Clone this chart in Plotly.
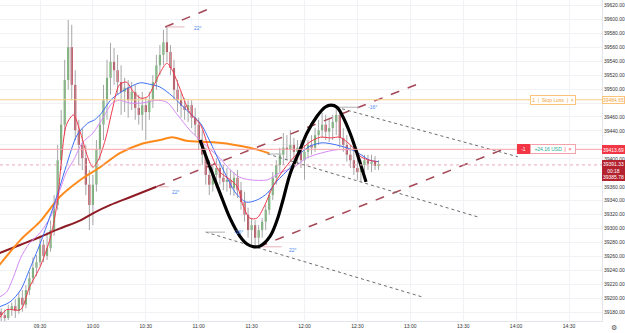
import pandas as pd
import plotly.graph_objects as go

DAY = "2024-03-04 "

# ---------------- candles (2-minute bars starting 09:08) ----------------
candle_start = "09:08"
opens = [39181,39176,39172,39184,39189,39182,39201,39191,39212,39229,
         39244,39252,39277,39261,39272,39298,39334,39398,39449,39513,
         39560,39506,39441,39420,39401,39363,39334,39363,39413,39449,
         39484,39516,39539,39527,39510,39496,39502,39484,39496,39473,
         39463,39477,39467,39484,39510,39534,39549,39567,39553,39530,
         39499,39484,39476,39470,39477,39459,39449,39427,39406,39377,
         39363,39377,39387,39373,39367,39370,39358,39373,39355,39338,
         39320,39298,39305,39287,39298,39310,39327,39348,39373,39391,
         39406,39416,39413,39420,39410,39416,39398,39410,39420,39416,
         39434,39441,39449,39439,39444,39453,39463,39430,39420,39406,
         39398,39387,39381,39391,39398,39393,39396,39390]
highs = [39186,39184,39191,39194,39199,39209,39212,39219,39238,39259,
         39262,39290,39284,39295,39312,39348,39420,39470,39542,39599,
         39592,39527,39456,39444,39420,39384,39377,39427,39463,39506,
         39542,39566,39559,39549,39534,39516,39513,39510,39506,39492,
         39496,39487,39496,39520,39549,39563,39585,39589,39563,39542,
         39513,39496,39487,39484,39484,39473,39459,39441,39416,39398,
         39391,39401,39398,39391,39387,39384,39381,39384,39367,39353,
         39330,39315,39312,39305,39315,39334,39355,39381,39398,39416,
         39437,39434,39441,39430,39427,39427,39420,39427,39434,39444,
         39456,39466,39463,39459,39463,39474,39470,39444,39434,39420,
         39413,39406,39398,39406,39406,39406,39404,39398]
lows = [39166,39165,39169,39175,39172,39178,39181,39186,39205,39221,
        39232,39247,39252,39255,39267,39290,39327,39384,39434,39499,
        39484,39427,39391,39384,39348,39298,39305,39353,39398,39427,
        39456,39492,39506,39492,39463,39467,39459,39470,39456,39449,
        39441,39427,39456,39473,39499,39520,39534,39539,39520,39484,
        39467,39459,39456,39453,39444,39434,39413,39391,39363,39348,
        39353,39358,39363,39355,39353,39348,39347,39344,39327,39310,
        39287,39277,39272,39272,39287,39298,39320,39341,39363,39381,
        39391,39398,39396,39398,39391,39387,39370,39401,39406,39410,
        39420,39430,39427,39424,39427,39434,39416,39410,39396,39387,
        39377,39370,39367,39381,39384,39381,39384,39384]
closes = [39176,39172,39184,39189,39182,39201,39191,39212,39229,39244,
          39252,39277,39261,39272,39298,39334,39398,39449,39513,39560,
          39506,39441,39420,39401,39363,39334,39363,39413,39449,39484,
          39516,39539,39527,39510,39496,39502,39484,39496,39473,39463,
          39477,39467,39484,39510,39534,39549,39567,39553,39530,39499,
          39484,39476,39470,39477,39459,39449,39427,39406,39377,39363,
          39377,39387,39373,39367,39370,39358,39373,39355,39338,39320,
          39298,39305,39287,39298,39310,39327,39348,39373,39391,39406,
          39416,39413,39420,39410,39416,39398,39410,39420,39416,39434,
          39441,39449,39439,39444,39453,39463,39430,39420,39406,39398,
          39387,39381,39391,39398,39393,39396,39390,39391.33]

# ---------------- moving averages ----------------
ma_red_t = ["09:07","09:11","09:19","09:24","09:30","09:36","09:40","09:42","09:45","09:49",
            "09:53","09:57","10:00","10:03","10:07","10:11","10:15","10:19","10:23","10:27",
            "10:31","10:34","10:38","10:42","10:45","10:49","10:55","11:01","11:06","11:12",
            "11:18","11:22","11:25","11:29","11:33","11:37","11:42","11:48","11:56","12:03",
            "12:09","12:15","12:20","12:26","12:32","12:37","12:41"]
ma_red_v = [39172,39184,39184,39216,39245,39288,39341,39394,39449,39463,
            39437,39403,39388,39398,39427,39470,39506,39510,39496,39487,
            39489,39502,39523,39537,39527,39503,39466,39449,39413,39381,
            39370,39360,39334,39315,39315,39331,39360,39384,39408,39424,
            39431,39430,39431,39420,39403,39398,39396]

ma_blue_t = ["09:07","09:13","09:19","09:24","09:30","09:36","09:41","09:45","09:51","09:57",
             "10:01","10:05","10:10","10:15","10:21","10:27","10:32","10:38","10:45","10:53",
             "11:01","11:06","11:14","11:21","11:27","11:33","11:39","11:44","11:52","11:57",
             "12:03","12:10","12:18","12:26","12:32","12:37","12:42"]
ma_blue_v = [39188,39195,39212,39241,39278,39320,39358,39391,39434,39451,
             39456,39466,39484,39494,39503,39509,39507,39503,39490,39470,
             39451,39427,39384,39351,39338,39341,39351,39367,39388,39406,
             39418,39423,39420,39414,39406,39398,39396]

ma_violet_t = ["09:07","09:11","09:15","09:19","09:24","09:30","09:36","09:41","09:45","09:49",
               "09:54","10:00","10:06","10:11","10:15","10:21","10:28","10:36","10:42","10:48",
               "10:55","11:05","11:12","11:18","11:23","11:29","11:39","11:46","11:54","12:01",
               "12:09","12:18","12:26"]
ma_violet_v = [39202,39209,39231,39258,39279,39294,39317,39353,39381,39398,
               39423,39437,39460,39480,39484,39480,39480,39484,39481,39463,
               39441,39417,39401,39384,39374,39370,39370,39380,39388,39401,
               39408,39413,39413]

ma_orange_t = ["09:07","09:19","09:30","09:41","09:53","10:04","10:15","10:27","10:38","10:45",
               "10:53","11:06","11:18","11:29","11:40"]
ma_orange_v = [39248,39284,39310,39345,39370,39388,39408,39421,39427,39431,
               39426,39424,39421,39416,39408]

ma_maroon_t = ["09:07","09:19","09:30","09:41","09:53","10:00","10:10","10:21","10:36"]
ma_maroon_v = [39265,39277,39288,39300,39312,39322,39334,39345,39360]

# ---------------- drawings ----------------
curve_t = ["11:00:44","11:06:25","11:12:05","11:17:45","11:23:25","11:27:23","11:31:22","11:34:46",
           "11:40:26","11:44:25","11:47:49","11:51:47","11:57:27","12:01:25","12:07:05","12:11:38",
           "12:15:02","12:18:26","12:21:50","12:25:49","12:29:47","12:33:11","12:34:53"]
curve_v = [39427,39388,39351,39315,39289,39278,39274,39275,
           39289,39312,39341,39378,39413,39437,39461,39474,
           39477,39474,39460,39437,39408,39381,39367]

dashed_lines = [  # (times, prices)
    (["10:36", "13:07"], [39360, 39510]),
    (["10:41", "11:06"], [39589, 39615]),
    (["11:34", "13:56"], [39274, 39417]),
]
dotted_lines = [
    (["11:04", "13:07"], [39295, 39202]),
    (["12:18", "14:01"], [39474, 39403]),
    (["11:39", "13:38"], [39407, 39317]),
]
angle_labels = [("10:56", 39588, "22°"), ("10:44", 39352, "22°"),
                ("11:50", 39269, "22°"), ("11:19", 39295, "-16°"),
                ("12:35", 39474, "-16°")]
angle_ticks = [(["10:42", "10:52"], 39589, "#e6b3bb"),
               (["10:37", "10:43"], 39360, "#e6b3bb"),
               (["11:34", "11:47"], 39274, "#e6b3bb"),
               (["11:04", "11:15"], 39295, "#b0b0b0"),
               (["11:39", "11:47"], 39407, "#b0b0b0"),
               (["12:18", "12:31"], 39474, "#b0b0b0")]

stop_loss = 39484.65
position_price = 39413.69
last_price = 39391.33
last_label = ["39391.33", "00:18", "39385.78"]
pnl_text = "+24.16 USD"

price_ticks = [39180 + 20 * k for k in range(23)]
hidden_ticks = [39380, 39420, 39480]   # covered by price-scale labels

# ---------------- build figure ----------------
def ts(lst):
    return [DAY + s for s in lst]

times = pd.date_range(DAY + candle_start, periods=len(closes), freq="2min")

fig = go.Figure()

# wicks
wx, wy = [], []
for t, h, l in zip(times, highs, lows):
    wx += [t, t, None]
    wy += [l, h, None]
fig.add_trace(go.Scatter(x=wx, y=wy, mode="lines",
                         line=dict(color="#a6a6a6", width=1), hoverinfo="skip"))
# bodies
bases = [min(o, c) for o, c in zip(opens, closes)]
hts = [max(abs(c - o), 1.0) for o, c in zip(opens, closes)]
cols = ["#5cb85c" if c >= o else "#c3283c" for o, c in zip(opens, closes)]
fig.add_trace(go.Bar(x=times, y=hts, base=bases, width=72000,
                     marker=dict(color=cols, line=dict(width=0)), hoverinfo="skip"))

# horizontal order lines
fig.add_hline(y=stop_loss, line=dict(color="#f9cd8a", width=1))
fig.add_hline(y=position_price, line=dict(color="#f5a3aa", width=1))
fig.add_hline(y=last_price, line=dict(color="#e7a9b6", width=1, dash="dot"))

# moving averages
for tt, vv, col, w in [(ma_maroon_t, ma_maroon_v, "#8e1b24", 2),
                       (ma_orange_t, ma_orange_v, "#ff8a1c", 2),
                       (ma_violet_t, ma_violet_v, "#d58af5", 1),
                       (ma_blue_t, ma_blue_v, "#3d6ef5", 1),
                       (ma_red_t, ma_red_v, "#f0384a", 1)]:
    fig.add_trace(go.Scatter(x=ts(tt), y=vv, mode="lines",
                             line=dict(color=col, width=w, shape="spline", smoothing=0.8),
                             hoverinfo="skip"))

# trend drawings
for tt, vv in dashed_lines:
    fig.add_trace(go.Scatter(x=ts(tt), y=vv, mode="lines",
                             line=dict(color="#a54755", width=1.5, dash="dash"), hoverinfo="skip"))
for tt, vv in dotted_lines:
    fig.add_trace(go.Scatter(x=ts(tt), y=vv, mode="lines",
                             line=dict(color="#6b6b6b", width=1, dash="dot"), hoverinfo="skip"))
for tt, v, col in angle_ticks:
    fig.add_trace(go.Scatter(x=ts(tt), y=[v, v], mode="lines",
                             line=dict(color=col, width=1), hoverinfo="skip"))

# black hand-drawn curve
fig.add_trace(go.Scatter(x=ts(curve_t), y=curve_v, mode="lines",
                         line=dict(color="#000000", width=3.2, shape="spline", smoothing=1.0),
                         hoverinfo="skip"))

FONT = "Liberation Sans"
FS = 5
ann = []
for t, v, txt in angle_labels:
    ann.append(dict(x=DAY + t, y=v, xref="x", yref="y", text=txt, showarrow=False,
                    xanchor="left", font=dict(size=FS, color="#4f86f0", family=FONT)))

PW = 602.0
# order labels
ann.append(dict(x=530 / PW, y=stop_loss, xref="paper", yref="y", xanchor="left",
                text="1  |  Stop Loss  |  ×", showarrow=False, width=42, height=6,
                bgcolor="white", bordercolor="#f9c479", borderwidth=1, borderpad=1,
                font=dict(size=FS, color="#f3a43b", family=FONT)))
ann.append(dict(x=530 / PW, y=position_price, xref="paper", yref="y", xanchor="right",
                text="-1", showarrow=False, width=9, height=6,
                bgcolor="#f23645", bordercolor="#f23645", borderwidth=1, borderpad=1,
                font=dict(size=FS, color="white", family=FONT)))
ann.append(dict(x=530 / PW, y=position_price, xref="paper", yref="y", xanchor="left",
                text=pnl_text + "  <span style='color:#f23645'>|  ×</span>", showarrow=False,
                width=42, height=6, bgcolor="white", bordercolor="#f5a3aa", borderwidth=1, borderpad=1,
                font=dict(size=FS, color="#22ab94", family=FONT)))
# price scale labels
ann.append(dict(x=1, y=stop_loss, xref="paper", yref="y", xanchor="left", xshift=0,
                text=f"{stop_loss:.2f}", showarrow=False, width=21, height=6,
                bgcolor="white", bordercolor="#f9c479", borderwidth=1, borderpad=0,
                font=dict(size=FS, color="#f3a43b", family=FONT)))
ann.append(dict(x=1, y=position_price, xref="paper", yref="y", xanchor="left", xshift=0,
                text=f"{position_price:.2f}", showarrow=False, width=21, height=7,
                bgcolor="#f23645", bordercolor="#f23645", borderwidth=1, borderpad=0,
                font=dict(size=FS, color="white", family=FONT)))
ann.append(dict(x=1, y=last_price + 6.5, xref="paper", yref="y", xanchor="left", yanchor="top",
                xshift=0, text="<br>".join(last_label), showarrow=False, width=21,
                bgcolor="#b5222f", bordercolor="#b5222f", borderwidth=1, borderpad=0,
                font=dict(size=FS, color="white", family=FONT)))
ann.append(dict(x=1, y=0, xref="paper", yref="paper", xanchor="center", yanchor="top",
                xshift=12, yshift=-1, text="⚙", showarrow=False,
                font=dict(size=7, color="#555555", family="DejaVu Sans")))

fig.update_layout(
    width=625, height=333, margin=dict(l=0, r=23, t=0, b=12),
    paper_bgcolor="white", plot_bgcolor="white", showlegend=False,
    annotations=ann,
    xaxis=dict(type="date", range=[DAY + "09:07:19", DAY + "14:48:43"],
               tick0=DAY + "09:30", dtick=30 * 60 * 1000, tickformat="%H:%M",
               showgrid=True, gridcolor="#f0f2f6", gridwidth=1, zeroline=False,
               showline=True, linecolor="#e3e5ea", ticks="",
               tickfont=dict(size=FS, color="#333333", family=FONT)),
    yaxis=dict(side="right", range=[39167.7, 39627.6],
               tickvals=price_ticks,
               ticktext=["" if v in hidden_ticks else f"{v:.2f}" for v in price_ticks],
               showgrid=True, gridcolor="#f0f2f6", gridwidth=1,
               zeroline=False, showline=True, linecolor="#e3e5ea", ticks="",
               tickfont=dict(size=FS, color="#333333", family=FONT)),
)

fig.write_html("out.html")
